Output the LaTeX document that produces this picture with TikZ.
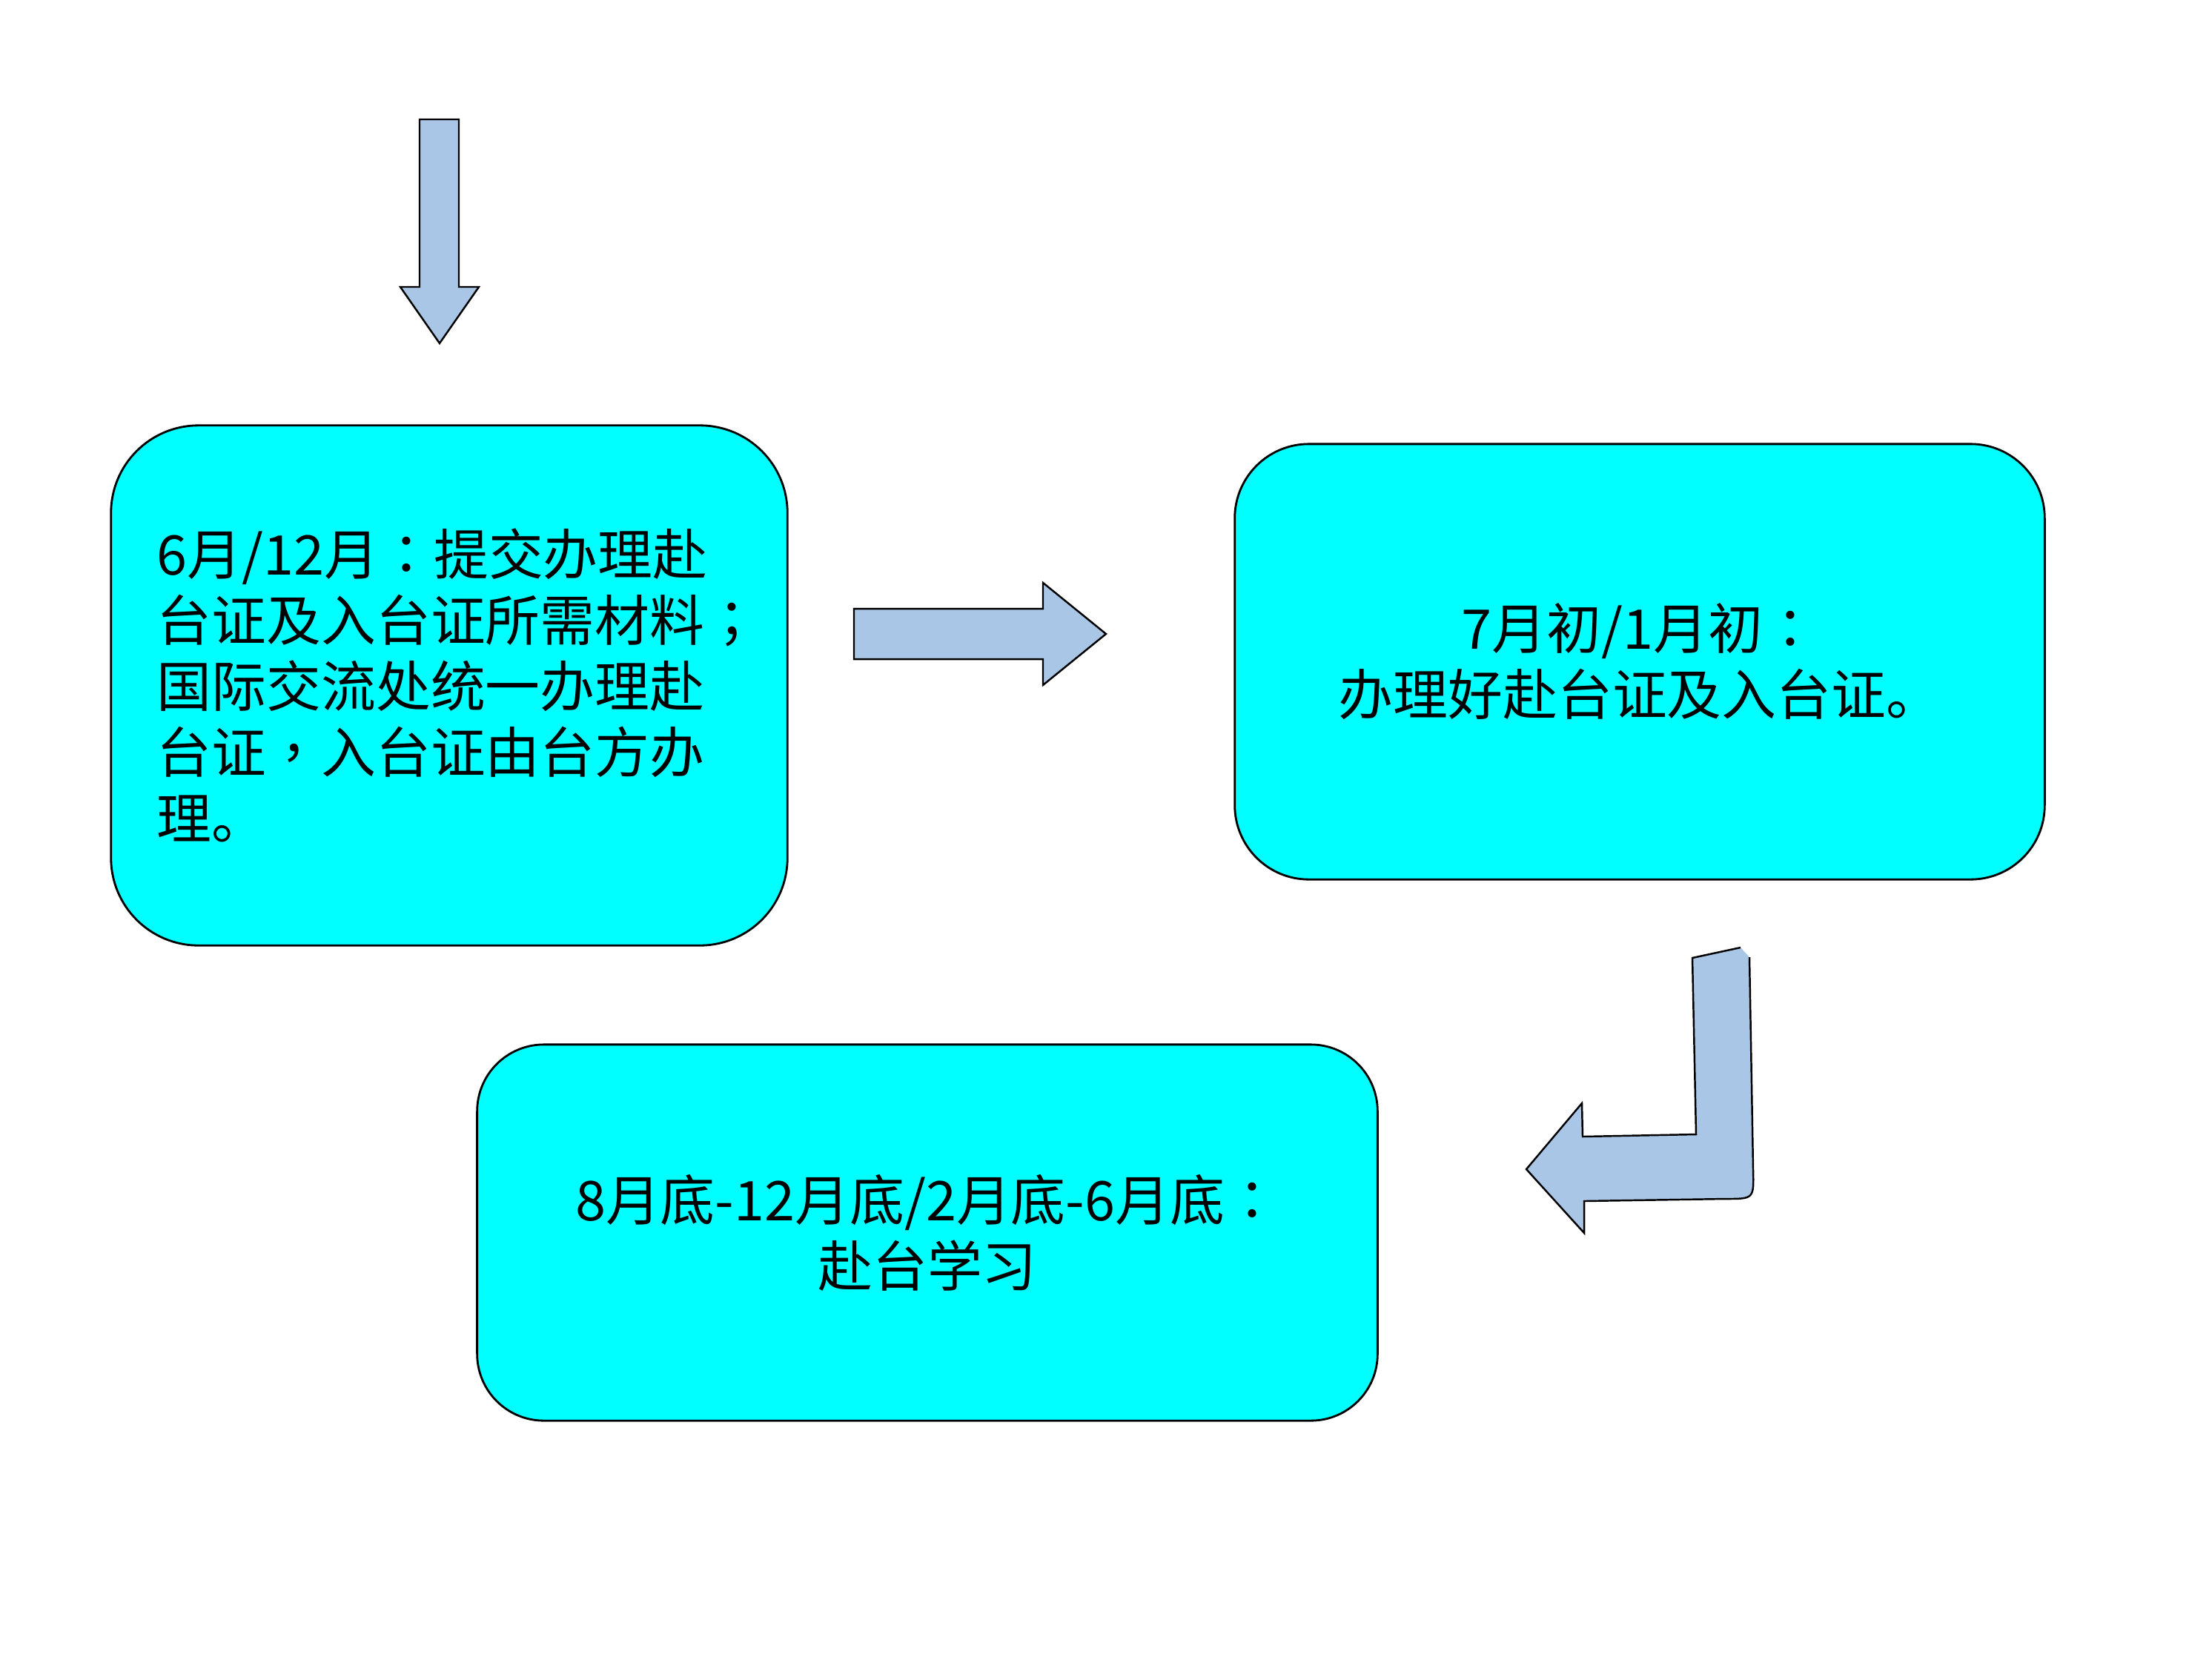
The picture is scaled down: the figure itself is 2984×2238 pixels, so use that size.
\documentclass[tikz,border=0pt]{standalone}
\usepackage{fontspec}
\setmainfont{Noto Sans CJK SC}
\newfontfamily\midpunct{Noto Sans CJK TC}
\newcommand{\cpunct}[1]{{\midpunct #1}}
\definecolor{arrowblue}{HTML}{A9C6E6}
\definecolor{stagecyan}{HTML}{00FFFF}
\tikzset{
    stage/.style={draw,line width=0.8pt,fill=stagecyan,rounded corners=#1,font=\fontsize{21pt}{25.3pt}\selectfont},
    blockarrow/.style={fill=arrowblue}
}

\begin{document}
\begin{tikzpicture}[x=0.01cm,y=-0.01cm]
    \useasboundingbox (0,0) rectangle (2984,2238);
    \draw[blockarrow,line width=0.7pt] (566,161)--(619,161)--(619,387)--(646,387)--(593,463)--(540,387)--(566,387)--cycle;
    \node[stage=1.18cm,minimum width=9.12cm,minimum height=7.01cm,text width=7.88cm,inner xsep=0.62cm,align=left] (apply) at (606,924.5)
        {6月/12月\cpunct{：}提交办理赴\\台证及入台证所需材料\cpunct{；}\\国际交流处统一办理赴\\台证\cpunct{，}入台证由台方办\\理。};
    \draw[blockarrow,line width=0.7pt] (1152,821)--(1407,821)--(1407,786)--(1492,855)--(1407,924)--(1407,889)--(1152,889)--cycle;
    \node[stage=1cm,minimum width=10.92cm,minimum height=5.87cm,align=center] (permit) at (2212,892.5)
        {7月初/1月初\cpunct{：}\\办理好赴台证及入台证。};
    \fill[blockarrow] (2283,1292)--(2348,1278)--(2360,1291)--(2365,1578) .. controls (2366,1617) .. (2328,1617)
        --(2137,1620)--(2137,1663)--(2059,1577)--(2134,1488)--(2135,1533)--(2288,1530)--cycle;
    \draw[line width=0.7pt] (2360,1291)--(2365,1578) .. controls (2366,1617) .. (2328,1617)
        --(2137,1620)--(2137,1663)--(2059,1577)--(2134,1488)--(2135,1533)--(2288,1530)--(2283,1292)--(2348,1278);
    \node[stage=0.9cm,minimum width=12.14cm,minimum height=5.07cm,align=center] (study) at (1251,1662.5)
        {8月底-12月底/2月底-6月底\cpunct{：}\\赴台学习};
\end{tikzpicture}
\end{document}
